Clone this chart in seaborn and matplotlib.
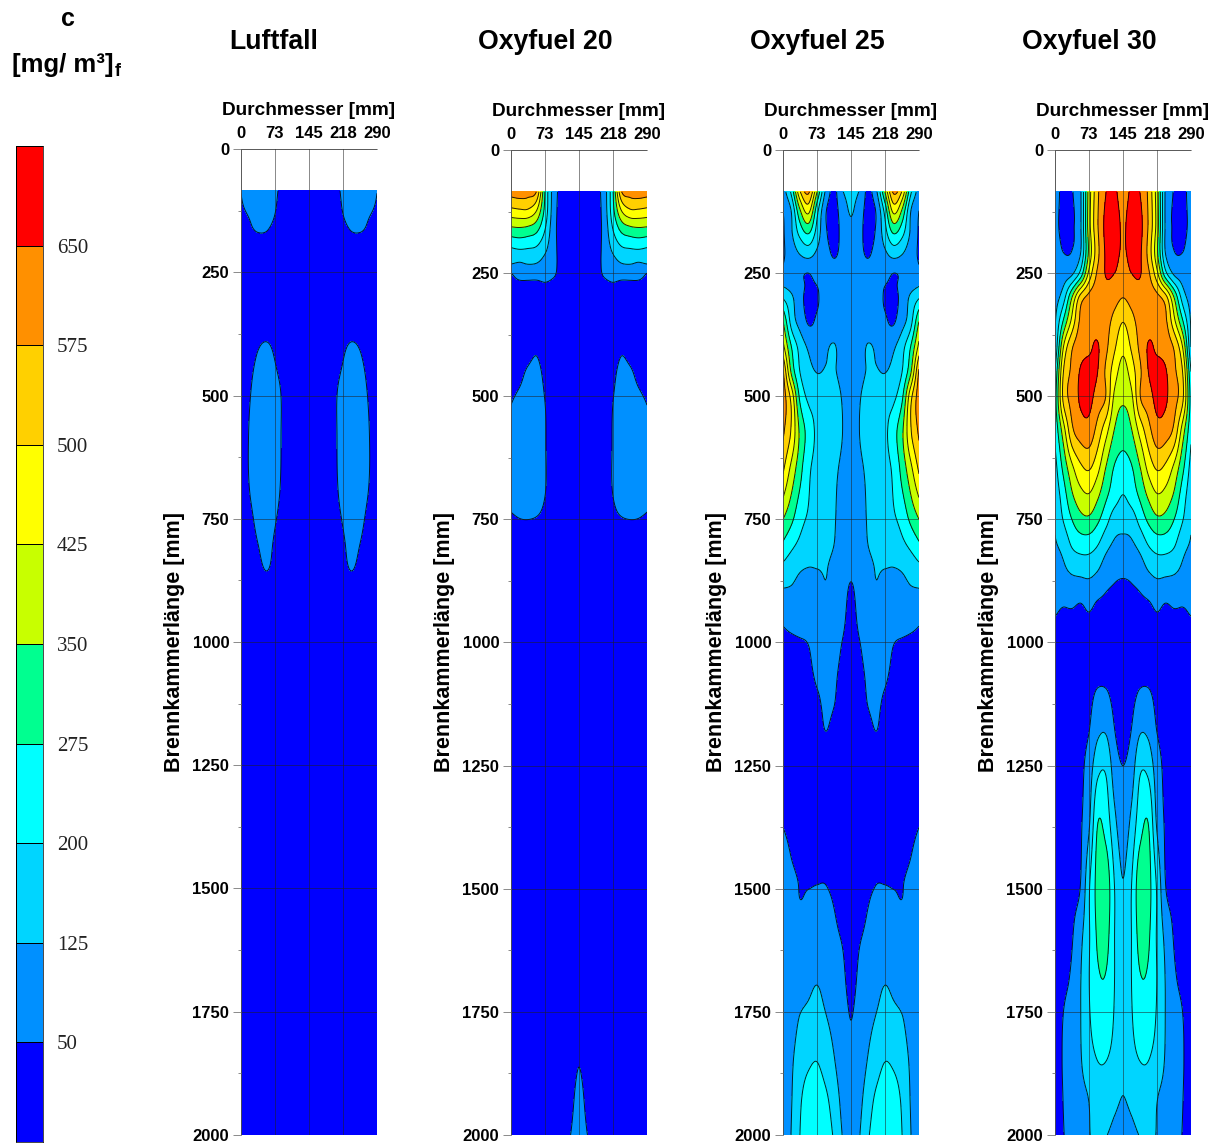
import numpy as np
import matplotlib
matplotlib.use('Agg')
import matplotlib.pyplot as plt
from matplotlib.colors import ListedColormap
import seaborn as sns

# Levels and colours of the scale
levels = [50, 125, 200, 275, 350, 425, 500, 575, 650]
band_colors = ['#0000ff', '#0090ff', '#00d5ff', '#00ffff', '#00ff90',
               '#c8ff00', '#ffff00', '#ffd000', '#ff9000', '#ff0000']
bar_labels = ['650', '575', '500', '425', '350', '275', '200', '125', '50']

# Half of the diameter, the panels are mirrored at 145 mm
x_half = [0, 18, 36, 54, 73, 91, 109, 127, 145]

titles = ['Luftfall', 'Oxyfuel 20', 'Oxyfuel 25', 'Oxyfuel 30']

# Luftfall
rows_luft = [85, 137, 171, 210, 300, 391, 450, 590, 700, 750, 800, 856, 920, 1400, 2000]
vals_luft = [
    [51, 80, 90, 85, 58, 35, 25, 20, 18],
    [40, 52, 70, 68, 48, 30, 22, 18, 16],
    [30, 42, 49, 48, 35, 25, 20, 16, 15],
    [25, 30, 30, 30, 25, 20, 18, 15, 14],
    [20, 22, 24, 25, 24, 20, 16, 14, 12],
    [22, 32, 46, 50, 44, 30, 18, 14, 12],
    [26, 42, 58, 62, 52, 42, 24, 15, 12],
    [35, 52, 70, 72, 60, 45, 28, 16, 12],
    [32, 49, 65, 68, 58, 42, 26, 16, 12],
    [28, 42, 58, 64, 52, 38, 24, 15, 12],
    [26, 36, 50, 58, 46, 33, 22, 15, 12],
    [22, 30, 42, 50, 42, 30, 20, 14, 12],
    [18, 22, 28, 30, 28, 22, 16, 13, 12],
    [15, 15, 15, 15, 15, 15, 15, 15, 15],
    [15, 15, 15, 15, 15, 15, 15, 15, 15],
]

# Oxyfuel 20
rows_o20 = [85, 120, 160, 200, 230, 250, 270, 310, 418, 460, 518, 600, 700, 735, 760, 850,
            1300, 1750, 1862, 1930, 2000]
vals_o20 = [
    [610, 620, 610, 575, 265, 90, 25, 15, 10],
    [490, 500, 500, 440, 250, 85, 20, 15, 10],
    [335, 340, 330, 300, 200, 75, 20, 15, 10],
    [195, 205, 200, 190, 140, 72, 20, 15, 10],
    [130, 120, 130, 125, 100, 70, 20, 15, 10],
    [50, 80, 78, 85, 85, 62, 20, 15, 10],
    [30, 40, 42, 38, 48, 35, 15, 12, 10],
    [22, 25, 25, 25, 25, 20, 14, 12, 10],
    [25, 30, 42, 50, 35, 20, 15, 12, 10],
    [30, 42, 58, 62, 42, 22, 15, 12, 10],
    [50, 62, 68, 68, 50, 24, 15, 12, 10],
    [55, 65, 70, 70, 52, 25, 15, 12, 10],
    [52, 62, 68, 68, 50, 22, 15, 12, 10],
    [50, 55, 58, 55, 42, 20, 15, 12, 10],
    [40, 45, 45, 42, 35, 20, 14, 12, 10],
    [20, 20, 20, 20, 20, 16, 14, 12, 10],
    [15, 15, 15, 15, 15, 15, 15, 15, 15],
    [15, 15, 15, 15, 15, 15, 16, 18, 35],
    [15, 15, 15, 15, 15, 15, 18, 25, 50],
    [15, 15, 15, 15, 15, 16, 22, 35, 68],
    [15, 15, 15, 15, 15, 18, 28, 50, 80],
]

# Oxyfuel 25
rows_o25 = [85, 120, 170, 220, 250, 277, 300, 350, 400, 450, 500, 570, 650, 750, 800, 840,
            890, 960, 1000, 1060, 1130, 1180, 1250, 1375, 1430, 1485, 1520, 1610, 1696,
            1767, 1852, 1930, 2000]
vals_o25 = [
    [85, 220, 490, 590, 345, 110, 35, 120, 150],
    [52, 135, 350, 460, 230, 60, 30, 85, 135],
    [40, 115, 220, 275, 165, 60, 35, 65, 100],
    [45, 75, 110, 125, 100, 75, 50, 70, 85],
    [65, 65, 60, 50, 75, 85, 85, 85, 85],
    [125, 100, 70, 40, 50, 75, 85, 85, 85],
    [195, 140, 70, 35, 45, 75, 85, 85, 80],
    [355, 175, 100, 45, 60, 80, 85, 80, 75],
    [450, 275, 175, 115, 85, 115, 130, 95, 80],
    [585, 335, 200, 150, 122, 130, 130, 105, 85],
    [620, 470, 260, 185, 170, 165, 150, 120, 95],
    [590, 490, 335, 245, 185, 165, 150, 125, 100],
    [510, 400, 300, 215, 175, 155, 135, 115, 100],
    [350, 290, 225, 190, 165, 150, 130, 100, 85],
    [265, 220, 185, 160, 145, 135, 125, 95, 75],
    [195, 165, 140, 130, 130, 128, 115, 85, 65],
    [125, 120, 105, 100, 105, 122, 105, 75, 45],
    [55, 70, 80, 75, 80, 90, 80, 60, 30],
    [30, 35, 42, 52, 75, 85, 75, 48, 25],
    [20, 22, 28, 38, 60, 65, 60, 35, 20],
    [15, 15, 20, 25, 40, 58, 50, 25, 15],
    [15, 15, 16, 20, 30, 50, 35, 20, 14],
    [15, 12, 12, 15, 18, 20, 18, 15, 12],
    [50, 35, 30, 25, 22, 25, 22, 15, 12],
    [70, 48, 38, 35, 40, 40, 28, 18, 12],
    [75, 60, 48, 46, 48, 48, 35, 22, 15],
    [80, 65, 50, 55, 60, 60, 45, 25, 18],
    [85, 75, 75, 85, 95, 85, 65, 48, 28],
    [85, 85, 100, 115, 125, 110, 85, 62, 38],
    [85, 95, 130, 140, 145, 130, 105, 75, 50],
    [85, 115, 165, 190, 200, 170, 130, 85, 60],
    [85, 122, 190, 230, 240, 215, 165, 105, 70],
    [85, 128, 200, 250, 265, 240, 190, 122, 80],
]

# Oxyfuel 30
rows_o30 = [85, 150, 216, 250, 300, 350, 400, 450, 500, 570, 650, 700, 750, 800, 870, 920,
            960, 1000, 1090, 1180, 1250, 1360, 1500, 1600, 1680, 1750, 1850, 1920, 2000]
vals_o30 = [
    [100, 20, 45, 110, 390, 560, 650, 660, 620],
    [70, 30, 40, 110, 400, 570, 670, 680, 640],
    [80, 55, 60, 130, 380, 555, 660, 665, 640],
    [70, 85, 110, 220, 450, 590, 655, 650, 625],
    [90, 170, 350, 530, 600, 620, 620, 600, 575],
    [115, 290, 450, 590, 625, 625, 600, 550, 500],
    [125, 425, 565, 620, 640, 655, 590, 510, 445],
    [200, 500, 590, 655, 670, 650, 560, 460, 395],
    [240, 520, 600, 660, 670, 620, 570, 410, 365],
    [215, 390, 555, 610, 620, 545, 450, 345, 305],
    [170, 290, 400, 475, 500, 440, 340, 265, 245],
    [150, 240, 340, 400, 420, 365, 290, 235, 200],
    [135, 205, 275, 325, 335, 290, 225, 165, 155],
    [118, 150, 210, 235, 235, 205, 150, 115, 105],
    [80, 100, 115, 120, 125, 105, 70, 55, 50],
    [58, 54, 58, 50, 62, 45, 38, 35, 30],
    [45, 40, 35, 35, 40, 30, 25, 20, 20],
    [20, 20, 20, 22, 25, 25, 25, 22, 20],
    [15, 15, 18, 25, 35, 49, 48, 30, 20],
    [12, 15, 18, 28, 50, 110, 118, 52, 25],
    [12, 15, 20, 32, 85, 175, 185, 85, 50],
    [12, 15, 22, 40, 115, 270, 240, 140, 85],
    [12, 18, 32, 52, 195, 300, 320, 200, 130],
    [13, 24, 45, 105, 195, 285, 300, 200, 142],
    [15, 35, 60, 120, 200, 265, 270, 200, 155],
    [20, 50, 75, 122, 195, 245, 250, 195, 150],
    [22, 55, 85, 118, 170, 200, 200, 175, 135],
    [22, 52, 80, 105, 130, 170, 170, 145, 125],
    [20, 48, 70, 95, 122, 145, 128, 105, 90],
]

all_rows = [rows_luft, rows_o20, rows_o25, rows_o30]
all_vals = [vals_luft, vals_o20, vals_o25, vals_o30]

x_ticks = [0, 72.5, 145, 217.5, 290]
x_labels = ['0', '73', '145', '218', '290']
y_ticks = [0, 250, 500, 750, 1000, 1250, 1500, 1750, 2000]

sns.set_style('white')
plt.rcParams['font.family'] = ['Liberation Sans', 'DejaVu Sans']
plt.rcParams['text.color'] = 'black'
plt.rcParams['axes.labelcolor'] = 'black'
plt.rcParams['xtick.color'] = 'black'
plt.rcParams['ytick.color'] = 'black'

W, H = 1216, 1144
fig = plt.figure(figsize=(W / 100, H / 100), dpi=100)


def px_axes(left, top, right, bottom):
    return fig.add_axes([left / W, 1 - bottom / H, (right - left) / W, (bottom - top) / H])


def smooth_rows(z, x, x_new):
    # cubic along axis 0, only to draw round contours between the read values
    h = np.diff(x)
    d = np.diff(z, axis=0) / h[:, None]
    m = np.zeros_like(z)
    h0 = h[:-1][:, None]
    h1 = h[1:][:, None]
    m[1:-1] = (h1 * d[:-1] + h0 * d[1:]) / (h0 + h1)
    m[0] = d[0]
    m[-1] = d[-1]
    k = np.clip(np.searchsorted(x, x_new) - 1, 0, len(h) - 1)
    t = ((x_new - x[k]) / h[k])[:, None]
    hk = h[k][:, None]
    return ((2 * t**3 - 3 * t**2 + 1) * z[k] + (t**3 - 2 * t**2 + t) * hk * m[k]
            + (-2 * t**3 + 3 * t**2) * z[k + 1] + (t**3 - t**2) * hk * m[k + 1])


# x range and top edge of each panel in pixels
panel_px = [(241, 149, 377), (511, 150, 647), (783, 150, 919), (1055, 150, 1191)]
title_px = [274, 545, 817, 1089]

x_half_arr = np.array(x_half, dtype=float)
x_full = np.concatenate([x_half_arr, 290 - x_half_arr[-2::-1]])
fill_levels = [-10000] + levels + [10000]
x_fine = np.linspace(0, 290, 291)

for i in range(4):
    left, top, right = panel_px[i]
    ax = px_axes(left, top, right, 1135)

    y = np.array(all_rows[i], dtype=float)
    z = np.array(all_vals[i], dtype=float)
    z_full = np.hstack([z, z[:, -2::-1]])

    y_fine = np.linspace(85, 2000, 960)
    z_fine = smooth_rows(z_full, y, y_fine)
    z_fine = smooth_rows(z_fine.T, x_full, x_fine).T

    ax.contourf(x_fine, y_fine, z_fine, levels=fill_levels, colors=band_colors)
    ax.contour(x_fine, y_fine, z_fine, levels=levels, colors='black', linewidths=0.7, alpha=0.85)

    ax.set_xlim(0, 290)
    ax.set_ylim(2000, 0)
    ax.xaxis.tick_top()
    ax.xaxis.set_label_position('top')
    ax.set_xticks(x_ticks)
    ax.set_xticklabels(x_labels, fontweight='bold', fontsize=12)
    ax.set_xticks([36.25, 108.75, 181.25, 253.75], minor=True)
    ax.set_yticks(y_ticks)
    ax.set_yticklabels([str(v) for v in y_ticks], fontweight='bold', fontsize=12)
    ax.set_yticks(np.arange(125, 2000, 250), minor=True)
    ax.tick_params(axis='y', which='major', length=5.5, width=0.6, color='#777777', pad=3,
                   left=True, right=False)
    ax.tick_params(axis='x', which='major', length=4, width=0.6, color='#777777', pad=2,
                   top=True, bottom=False)
    ax.tick_params(axis='both', which='minor', length=2.5, width=0.6, color='#777777',
                   top=True, left=True, bottom=False, right=False)
    ax.set_xlabel('Durchmesser [mm]', fontweight='bold', fontsize=13.7, labelpad=7.5)
    ax.set_ylabel('Brennkammerlänge [mm]', fontweight='bold', fontsize=15.5, labelpad=5.5)

    ax.grid(True, which='major', color='#222222', linewidth=0.5, alpha=0.75)
    ax.set_axisbelow(False)
    sns.despine(ax=ax, top=False, right=True, bottom=True, left=False)
    for side in ['top', 'left']:
        ax.spines[side].set_color('#888888')
        ax.spines[side].set_linewidth(0.6)

    fig.text(title_px[i] / W, 1 - 42 / H, titles[i], fontweight='bold', fontsize=19.2,
             ha='center', va='center')

# Colour scale
cax = px_axes(16, 146, 43, 1142)
bar_vals = np.arange(len(band_colors))[::-1].reshape(-1, 1)
sns.heatmap(bar_vals, cmap=ListedColormap(band_colors), cbar=False, linewidths=0.5,
            linecolor='black', xticklabels=False, ax=cax)
cax.yaxis.tick_right()
cax.set_yticks(np.arange(1, len(bar_labels) + 1))
cax.set_yticklabels(bar_labels, family='Liberation Serif', fontsize=15, rotation=0, color='#222222')
cax.tick_params(axis='y', length=0, pad=10)
for side in cax.spines.values():
    side.set_visible(True)
    side.set_color('black')
    side.set_linewidth(0.5)

fig.text(68 / W, 1 - 19 / H, 'c', fontweight='bold', fontsize=18, ha='center', va='center')
fig.text(12 / W, 1 - 65 / H, '[mg/ m³]', fontweight='bold', fontsize=18.5, ha='left', va='center')
fig.text(115 / W, 1 - 72 / H, 'f', fontweight='bold', fontsize=13, ha='left', va='center')

fig.savefig('out.png', dpi=100)
